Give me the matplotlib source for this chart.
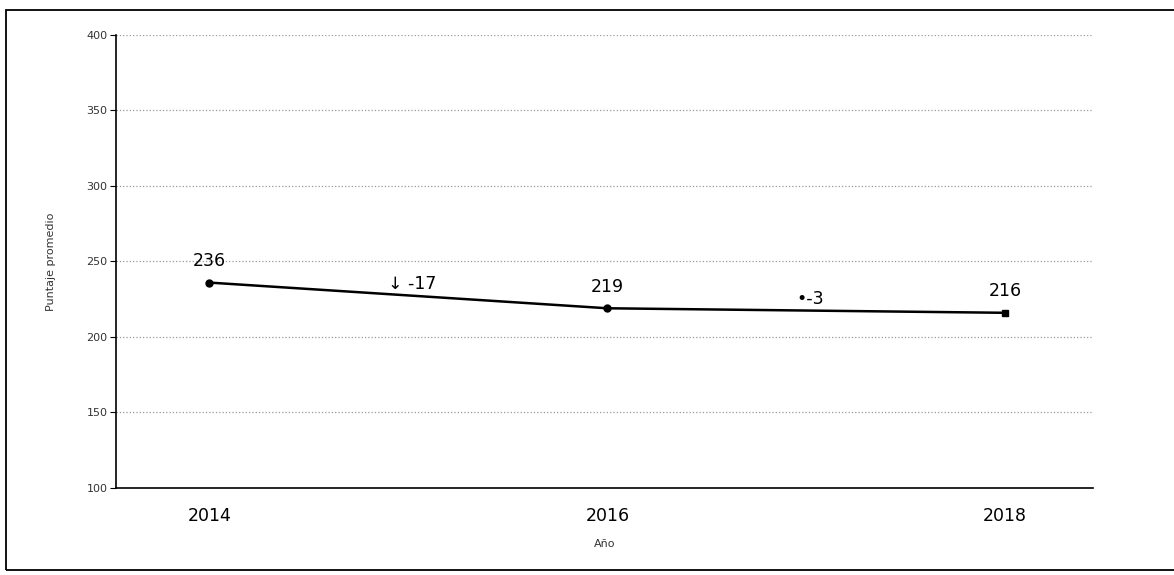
import numpy as np
import matplotlib.pyplot as plt
from matplotlib.patches import Rectangle

# datos
anios = [2014, 2016, 2018]
puntaje = [236, 219, 216]
marcas = ["o", "o", "s"]

# cambios entre aplicaciones
anios_cambio = [2015, 2017]
cambio = [-17, -3]
simbolo_cambio = ["\u2193 ", "\u2022"]

yticks = [100, 150, 200, 250, 300, 350, 400]

fig = plt.figure(figsize=(11.74, 5.75), dpi=100)
ax = fig.add_axes([0.0988, 0.1513, 0.832, 0.788])

# marco exterior
fig.patches.append(Rectangle((0.005, 0.009), 1.2, 0.974, transform=fig.transFigure,
                             fill=False, edgecolor="black", linewidth=1.3))

ax.plot(anios, puntaje, color="black", linewidth=1.8, zorder=3)
for a, p, m in zip(anios, puntaje, marcas):
    ax.plot(a, p, marker=m, color="black", markersize=5, zorder=4)
    ax.annotate(str(p), (a, p), xytext=(0, 9), textcoords="offset points",
                ha="center", va="bottom", fontsize=12.5)

# etiquetas de cambio en el punto medio de cada tramo
for i in range(len(anios_cambio)):
    medio = (puntaje[i] + puntaje[i + 1]) / 2
    ax.annotate(simbolo_cambio[i] + str(cambio[i]), (anios_cambio[i], medio),
                xytext=(3, 2), textcoords="offset points",
                ha="center", va="bottom", fontsize=12.5)

ax.set_xlim(2013.53, 2018.44)
ax.set_ylim(100, 400)
ax.set_xticks(anios)
ax.set_xticklabels([str(a) for a in anios], fontsize=12.5)
ax.set_yticks(yticks)
ax.set_yticklabels([str(t) for t in yticks], fontsize=8, color="#333333")
ax.tick_params(axis="x", length=0, pad=14)
ax.tick_params(axis="y", length=4, width=0.8, pad=2)

ax.grid(axis="y", linestyle=":", color="#999999", linewidth=0.9)
ax.set_axisbelow(True)
for s in ["top", "right"]:
    ax.spines[s].set_visible(False)
ax.spines["left"].set_linewidth(1.2)
ax.spines["bottom"].set_linewidth(1.2)

ax.set_xlabel("Año", fontsize=8, color="#333333", labelpad=10)
ax.set_ylabel("Puntaje promedio", fontsize=8, color="#333333", labelpad=22)

plt.savefig("out.png", dpi=100)
plt.close()
